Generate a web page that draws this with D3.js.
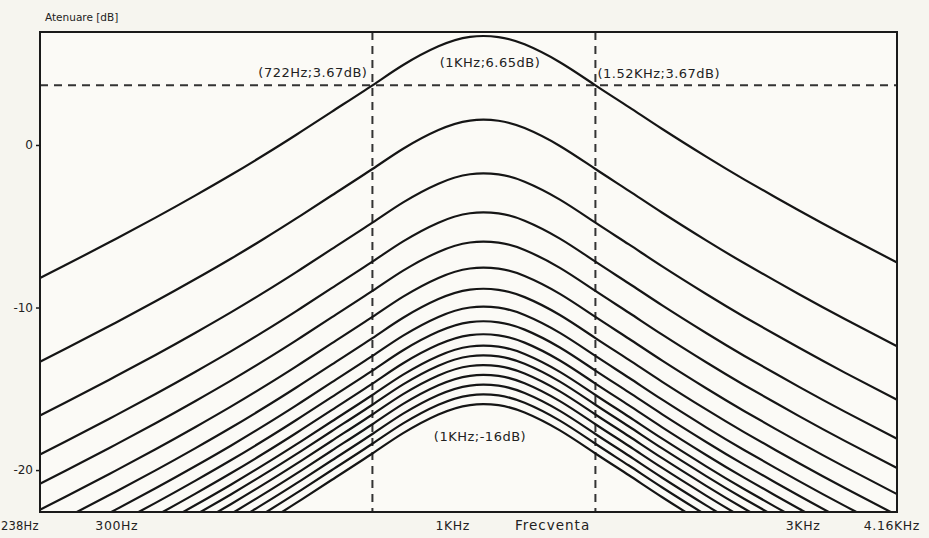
<!DOCTYPE html>
<html>
<head>
<meta charset="utf-8">
<script src="https://cdn.jsdelivr.net/npm/d3@7"></script>
<style>
  html, body { margin: 0; padding: 0; background: #f6f5ef; }
  svg { display: block; }
  text { font-family: "DejaVu Sans", sans-serif; fill: #222; }
</style>
</head>
<body>
<svg id="chart" width="929" height="538"></svg>
<script>
// Frequency response family: one band-pass shape, shifted down by the attenuator.

// frequency points (Hz) where the top curve was read
const freqs = [238, 260, 300, 350, 400, 450, 500, 560, 630, 722, 800, 900,
               1000, 1100, 1200, 1350, 1520, 1700, 1900, 2200, 2500, 3000, 3500, 4160];
// top curve, dB relative to its level at 1 kHz
const profile = [-14.84, -14.01, -12.64, -11.12, -9.75, -8.5, -7.33, -6.02, -4.61, -2.98, -1.73, -0.58,
                 0, -0.01, -0.46, -1.56, -2.98, -4.32, -5.67, -7.37, -8.78, -10.68, -12.22, -13.88];
// level of each curve at 1 kHz (dB), top to bottom
const peakLevels = [6.65, 1.5, -1.8, -4.2, -6.0, -7.6, -8.9, -10.0, -10.9, -11.7,
                    -12.4, -13.0, -13.6, -14.2, -14.8, -15.4, -16.0];

const yTicks = [0, -10, -20];
const xTickFreqs = [238, 300, 1000, 3000, 4160];
const xTickText = ['238Hz', '300Hz', '1KHz', '3KHz', '4.16KHz'];

// annotated points
const markFreqs = [722, 1000, 1520, 1000];
const markDb = [3.67, 6.65, 3.67, -16];
const markText = ['(722Hz;3.67dB)', '(1KHz;6.65dB)', '(1.52KHz;3.67dB)', '(1KHz;-16dB)'];

const svg = d3.select('#chart');
const plotL = 40, plotR = 897, plotT = 32, plotB = 512;

const x = d3.scaleLog().domain([238, 4160]).range([plotL, plotR]);
const y = d3.scaleLinear().domain([-22.58, 6.95]).range([plotB, plotT]);

svg.append('defs').append('clipPath').attr('id', 'plot')
  .append('rect').attr('x', plotL).attr('y', plotT)
  .attr('width', plotR - plotL).attr('height', plotB - plotT);

svg.append('rect')
  .attr('x', plotL).attr('y', plotT).attr('width', plotR - plotL).attr('height', plotB - plotT)
  .attr('fill', '#fbfaf6');

// dashed guides at the -3 dB points
const guides = svg.append('g').attr('stroke', '#333').attr('stroke-width', 2)
  .attr('stroke-dasharray', '8,6');
guides.append('line')
  .attr('x1', plotL).attr('x2', plotR)
  .attr('y1', y(markDb[0])).attr('y2', y(markDb[0]));
[markFreqs[0], markFreqs[2]].forEach(f => {
  guides.append('line')
    .attr('x1', x(f)).attr('x2', x(f))
    .attr('y1', plotT).attr('y2', plotB);
});

// curves
const line = d3.line()
  .x(d => x(d.f))
  .y(d => y(d.db))
  .curve(d3.curveNatural);

svg.append('g').attr('clip-path', 'url(#plot)')
  .selectAll('path')
  .data(peakLevels)
  .join('path')
  .attr('fill', 'none')
  .attr('stroke', '#151515')
  .attr('stroke-width', 2.2)
  .attr('d', p => line(freqs.map((f, i) => ({ f: f, db: p + profile[i] }))));

// frame
svg.append('rect')
  .attr('x', plotL).attr('y', plotT).attr('width', plotR - plotL).attr('height', plotB - plotT)
  .attr('fill', 'none').attr('stroke', '#1a1a1a').attr('stroke-width', 2);

// y axis
const yAxis = svg.append('g').attr('transform', `translate(${plotL},0)`)
  .call(d3.axisLeft(y).tickValues(yTicks).tickSize(4).tickFormat(d => d));
yAxis.select('.domain').remove();
yAxis.selectAll('line').attr('stroke', '#1a1a1a').attr('stroke-width', 1.5);
yAxis.selectAll('text').attr('font-size', 12).attr('fill', '#222')
  .attr('font-family', '"DejaVu Sans", sans-serif');

svg.append('text').attr('x', 45).attr('y', 21).attr('font-size', 10.5)
  .text('Atenuare [dB]');

// x labels: the scan places them a little off their ticks
const xLabelPos = [
  { anchor: 'start', dx: -39, size: 11.5, ls: 0.2 },
  { anchor: 'start', dx: -14, size: 12.5, ls: 0.6 },
  { anchor: 'end', dx: 0, size: 12.5, ls: 0.6 },
  { anchor: 'middle', dx: 4, size: 12.5, ls: 0.6 },
  { anchor: 'end', dx: 23, size: 12.5, ls: 0.6 }
];
svg.append('g').selectAll('text')
  .data(xTickFreqs)
  .join('text')
  .attr('x', (f, i) => x(f) + xLabelPos[i].dx)
  .attr('y', 530)
  .attr('text-anchor', (f, i) => xLabelPos[i].anchor)
  .attr('font-size', (f, i) => xLabelPos[i].size)
  .attr('letter-spacing', (f, i) => xLabelPos[i].ls)
  .text((f, i) => xTickText[i]);

svg.append('text').attr('x', x(1000) + 45).attr('y', 530)
  .attr('font-size', 13.5).attr('letter-spacing', 1).text('Frecventa');

// point annotations
const markPos = [
  { anchor: 'end', dx: -5, dy: -8 },
  { anchor: 'middle', dx: 20, dy: 30 },
  { anchor: 'start', dx: 2, dy: -7 },
  { anchor: 'middle', dx: 10, dy: 36 }
];
svg.append('g').selectAll('text')
  .data(markFreqs)
  .join('text')
  .attr('x', (f, i) => x(f) + markPos[i].dx)
  .attr('y', (f, i) => y(markDb[i]) + markPos[i].dy)
  .attr('text-anchor', (f, i) => markPos[i].anchor)
  .attr('font-size', 13)
  .attr('letter-spacing', 0.5)
  .text((f, i) => markText[i]);
</script>
</body>
</html>
